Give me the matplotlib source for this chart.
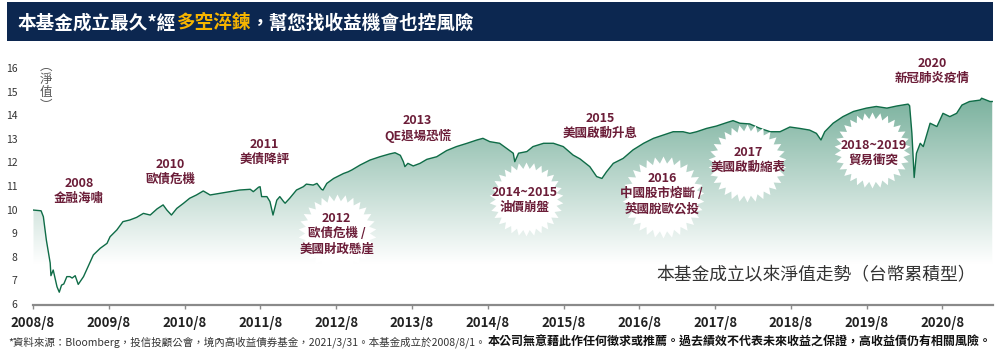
import numpy as np
import matplotlib
matplotlib.use("Agg")
import matplotlib.pyplot as plt
from matplotlib.patches import Polygon, Rectangle
from matplotlib.path import Path

plt.rcParams['font.family'] = ['Noto Sans CJK TC', 'DejaVu Sans']

# ---------------- data ----------------
years = [2008.59, 2008.62, 2008.69, 2008.72, 2008.76, 2008.81, 2008.82, 2008.85, 2008.87, 2008.90,
         2008.93, 2008.96, 2008.99, 2009.03, 2009.07, 2009.10, 2009.14, 2009.18, 2009.25, 2009.31,
         2009.38, 2009.47, 2009.56, 2009.60, 2009.69, 2009.77, 2009.86, 2009.95, 2010.04, 2010.13,
         2010.22, 2010.30, 2010.35, 2010.41, 2010.48, 2010.57, 2010.65, 2010.74, 2010.83, 2010.92,
         2011.05, 2011.18, 2011.31, 2011.45, 2011.49, 2011.56, 2011.58, 2011.60, 2011.67, 2011.71,
         2011.75, 2011.80, 2011.84, 2011.89, 2011.91, 2011.97, 2012.06, 2012.15, 2012.19, 2012.28,
         2012.33, 2012.39, 2012.41, 2012.46, 2012.55, 2012.68, 2012.74, 2012.79, 2012.90, 2013.03,
         2013.16, 2013.29, 2013.36, 2013.43, 2013.47, 2013.49, 2013.53, 2013.60, 2013.69, 2013.78,
         2013.91, 2014.04, 2014.17, 2014.31, 2014.44, 2014.52, 2014.61, 2014.74, 2014.83, 2014.92,
         2014.94, 2014.99, 2015.10, 2015.18, 2015.32, 2015.45, 2015.58, 2015.71, 2015.80, 2015.93,
         2016.02, 2016.09, 2016.15, 2016.24, 2016.37, 2016.50, 2016.64, 2016.77, 2016.90, 2017.03,
         2017.16, 2017.25, 2017.34, 2017.47, 2017.60, 2017.74, 2017.82, 2017.91, 2018.04, 2018.17,
         2018.31, 2018.44, 2018.57, 2018.70, 2018.83, 2018.92, 2018.98, 2019.03, 2019.14, 2019.27,
         2019.41, 2019.58, 2019.71, 2019.85, 2019.98, 2020.13, 2020.15, 2020.18, 2020.21, 2020.24,
         2020.29, 2020.33, 2020.42, 2020.51, 2020.59, 2020.68, 2020.77, 2020.84, 2020.94, 2021.08,
         2021.10, 2021.21, 2021.24]
nav = [9.98, 9.97, 9.95, 9.70, 8.70, 7.74, 7.20, 7.44, 7.16, 6.73,
       6.50, 6.80, 6.85, 7.16, 7.16, 7.10, 7.20, 6.83, 7.16, 7.58,
       8.08, 8.36, 8.57, 8.85, 9.14, 9.49, 9.56, 9.67, 9.84, 9.77,
       10.03, 10.20, 9.98, 9.77, 10.05, 10.27, 10.48, 10.62, 10.79, 10.62,
       10.69, 10.76, 10.83, 10.86, 10.76, 10.95, 10.97, 10.55, 10.55, 10.34,
       9.77, 10.40, 10.55, 10.34, 10.27, 10.48, 10.83, 10.97, 11.08, 11.04,
       11.11, 10.86, 10.83, 11.11, 11.32, 11.53, 11.60, 11.68, 11.89, 12.10,
       12.24, 12.36, 12.41, 12.30, 12.03, 11.82, 11.96, 11.85, 11.96, 12.13,
       12.24, 12.50, 12.67, 12.81, 12.95, 13.02, 12.88, 12.81, 12.60, 12.39,
       12.03, 12.39, 12.46, 12.67, 12.81, 12.81, 12.67, 12.31, 12.15, 11.82,
       11.40, 11.32, 11.60, 11.96, 12.17, 12.53, 12.81, 13.02, 13.16, 13.30,
       13.30, 13.23, 13.30, 13.44, 13.54, 13.69, 13.77, 13.66, 13.63, 13.45,
       13.30, 13.30, 13.50, 13.44, 13.37, 13.23, 12.95, 13.30, 13.66, 13.94,
       14.16, 14.30, 14.37, 14.30, 14.39, 14.47, 14.40, 13.23, 11.36, 12.39,
       12.81, 12.67, 13.66, 13.52, 14.08, 13.94, 14.08, 14.43, 14.58, 14.64,
       14.72, 14.58, 14.58]

tick_years = [2008, 2009, 2010, 2011, 2012, 2013, 2014, 2015, 2016, 2017, 2018, 2019, 2020]
tick_labels = ["2008/8", "2009/8", "2010/8", "2011/8", "2012/8", "2013/8", "2014/8",
               "2015/8", "2016/8", "2017/8", "2018/8", "2019/8", "2020/8"]
y_ticks = [6, 7, 8, 9, 10, 11, 12, 13, 14, 15, 16]

event_texts = ["2008\n金融海嘯", "2010\n歐債危機", "2011\n美債降評", "2012\n歐債危機 /\n美國財政懸崖",
               "2013\nQE退場恐慌", "2014~2015\n油價崩盤", "2015\n美國啟動升息",
               "2016\n中國股市熔斷 /\n英國脫歐公投", "2017\n美國啟動縮表", "2018~2019\n貿易衝突",
               "2020\n新冠肺炎疫情"]
event_x = [2009.19, 2010.40, 2011.64, 2012.59, 2013.66, 2015.07, 2016.07, 2016.88, 2018.02, 2019.67, 2020.45]
event_y = [10.79, 11.59, 12.46, 8.97, 13.44, 10.41, 13.53, 10.67, 12.10, 12.39, 15.89]
burst_x = [2012.59, 2015.09, 2016.89, 2018.00, 2019.65]
burst_y = [9.01, 10.45, 10.53, 11.98, 12.53]
burst_r = [39, 37, 41, 39, 38]   # radius in pixels

title_parts = ["本基金成立最久*經", "多空淬鍊", "，幫您找收益機會也控風險"]
note_parts = ["*資料來源：Bloomberg，投信投顧公會，境內高收益債券基金，2021/3/31。本基金成立於2008/8/1。",
              "本公司無意藉此作任何徵求或推薦。過去績效不代表未來收益之保證，高收益債仍有相關風險。"]
subtitle = "本基金成立以來淨值走勢（台幣累積型）"

# ---------------- figure ----------------
W, H = 1000, 356
fig = plt.figure(figsize=(W / 100, H / 100), dpi=100)
fig.patch.set_facecolor("white")

def fx(px):
    return px / W

def fy(py):
    return 1 - py / H

ax = fig.add_axes([fx(33), fy(305), fx(960), 255 / H])
x0, x1 = 2008 + 7 / 12, 2021.25
y0, y1 = 6 - 1 / 23.6, 6 + 254 / 23.6
ax.set_xlim(x0, x1)
ax.set_ylim(y0, y1)
ax.set_facecolor("none")

# gradient fill under the curve
gv = np.linspace(y0, y1, 500)
t = np.clip((gv - 7.7) / (14.9 - 7.7), 0, 1)
top = np.array([0x78, 0xb0, 0x9c]) / 255.0
rgb = 1 - t[:, None] * (1 - top)
img = np.repeat(rgb[:, None, :], 2, axis=1)
im = ax.imshow(img, extent=[x0, x1, y0, y1], origin="lower", aspect="auto",
               zorder=1, interpolation="bilinear")
verts = list(zip(years, nav)) + [(years[-1], y0), (years[0], y0)]
clip_poly = Polygon(verts, closed=True, transform=ax.transData,
                    facecolor="none", edgecolor="none")
ax.add_patch(clip_poly)
im.set_clip_path(clip_poly)

ax.plot(years, nav, color="#0f6c47", lw=1.0, zorder=2, solid_joinstyle="round")

# starbursts
n = 30
ang = np.linspace(0, 2 * np.pi, 2 * n, endpoint=False) + np.pi / 2
rad = np.where(np.arange(2 * n) % 2 == 0, 1.0, 0.83)
sv = np.column_stack([rad * np.cos(ang), rad * np.sin(ang)])
sv = np.vstack([sv, sv[:1]])
codes = [Path.MOVETO] + [Path.LINETO] * (len(sv) - 2) + [Path.CLOSEPOLY]
star = Path(sv, codes)
for bx, by, br in zip(burst_x, burst_y, burst_r):
    ax.plot([bx], [by], marker=star, ms=2 * br * 0.72, mfc="white", mec="none",
            ls="none", zorder=3, clip_on=False)

for s, ex, ey in zip(event_texts, event_x, event_y):
    ax.text(ex, ey, s, ha="center", va="center", fontsize=9, fontweight="bold",
            color="#6b1d38", linespacing=1.2, zorder=4, clip_on=False)

# axes styling
for sp in ["left", "top", "right"]:
    ax.spines[sp].set_visible(False)
ax.spines["bottom"].set_color("#8a8a8a")
ax.spines["bottom"].set_linewidth(1.6)
ax.set_xticks([y + 7 / 12 for y in tick_years])
ax.set_xticklabels(tick_labels)
ax.tick_params(axis="x", direction="out", length=3, width=1, color="#8a8a8a",
               labelsize=9.5, labelcolor="#222222", pad=5)
for lab in ax.get_xticklabels():
    lab.set_fontweight("bold")
ax.set_yticks(y_ticks)
ax.set_yticklabels([str(v) for v in y_ticks])
ax.tick_params(axis="y", length=0, labelsize=7.5, labelcolor="#333333", pad=11)

# vertical y label
fig.text(fx(46), fy(86), "︵\n淨\n值\n︶", ha="center", va="center", fontsize=9,
         color="#555555", linespacing=1.0)

# subtitle
fig.text(fx(976), fy(275), subtitle, ha="right", va="center", fontsize=12.8,
         color="#333333")

# title band
fig.patches.append(Rectangle((fx(7), fy(41)), fx(986), 39 / H, transform=fig.transFigure,
                             facecolor="#0c2750", edgecolor="none", zorder=0))

renderer = fig.canvas.get_renderer()

def text_width(s, size, weight):
    tmp = fig.text(0, 0, s, fontsize=size, fontweight=weight)
    w = tmp.get_window_extent(renderer).width
    tmp.remove()
    return w

def place_seq(parts, colors, weights, x_px, y_px, target_w, size0):
    full = "".join(parts)
    wfull = text_width(full, size0, weights[-1])
    size = size0 * target_w / wfull
    prefix = ""
    for s, c, w in zip(parts, colors, weights):
        off = text_width(prefix + s, size, w) - text_width(s, size, w) if prefix else 0.0
        fig.text(fx(x_px + off), fy(y_px), s, color=c, fontweight=w, fontsize=size,
                 ha="left", va="center")
        prefix += s

def place_fit(s, color, weight, x_px, y_px, target_w, size0):
    size = size0 * target_w / text_width(s, size0, weight)
    fig.text(fx(x_px), fy(y_px), s, color=color, fontweight=weight, fontsize=size,
             ha="left", va="center")

place_seq(title_parts, ["white", "#f7b500", "white"], ["bold", "bold", "bold"],
          18, 23, 457, 14)
place_fit(note_parts[0], "#333333", "normal", 8, 342, 476, 7.5)
place_fit(note_parts[1], "#111111", "bold", 488, 342, 502, 7.5)

fig.savefig("out.png", dpi=100)
